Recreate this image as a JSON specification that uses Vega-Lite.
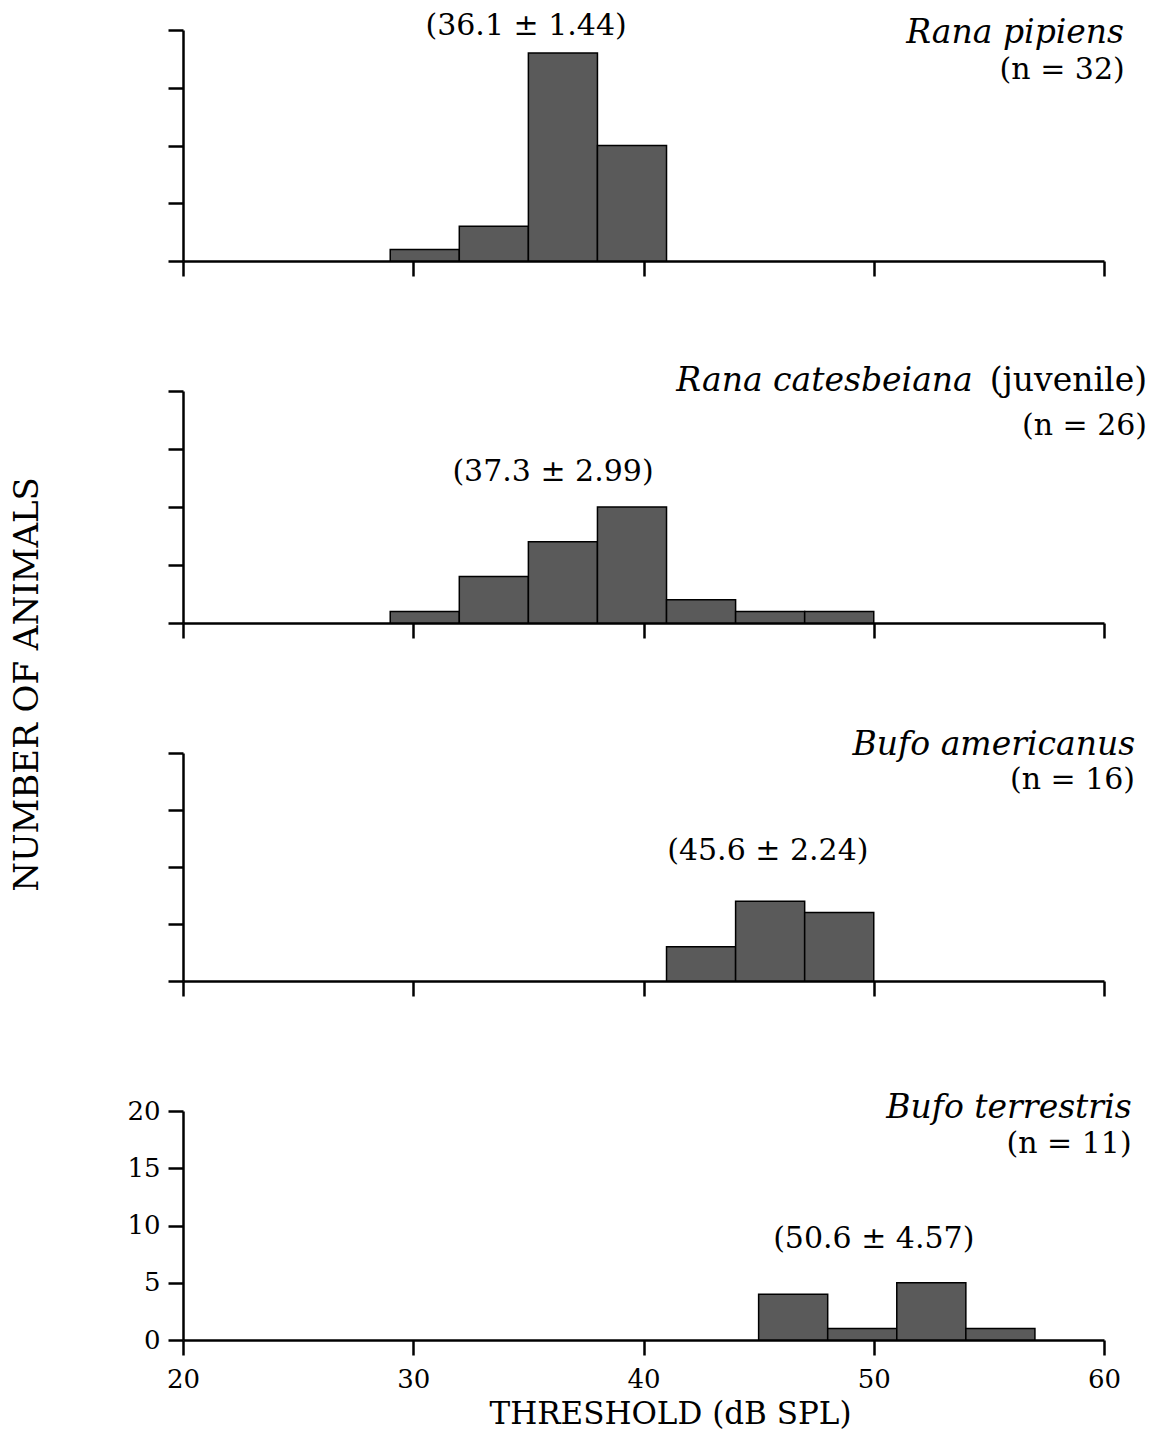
{
  "$schema": "https://vega.github.io/schema/vega-lite/v6.json",
  "padding": {"left": 10, "top": 10, "right": 5, "bottom": 5},
  "background": "white",
  "datasets": {
    "p1": [
      {"lo": 29, "hi": 32, "n": 1},
      {"lo": 32, "hi": 35, "n": 3},
      {"lo": 35, "hi": 38, "n": 18},
      {"lo": 38, "hi": 41, "n": 10}
    ],
    "p2": [
      {"lo": 29, "hi": 32, "n": 1},
      {"lo": 32, "hi": 35, "n": 4},
      {"lo": 35, "hi": 38, "n": 7},
      {"lo": 38, "hi": 41, "n": 10},
      {"lo": 41, "hi": 44, "n": 2},
      {"lo": 44, "hi": 47, "n": 1},
      {"lo": 47, "hi": 50, "n": 1}
    ],
    "p3": [
      {"lo": 41, "hi": 44, "n": 3},
      {"lo": 44, "hi": 47, "n": 7},
      {"lo": 47, "hi": 50, "n": 6}
    ],
    "p4": [
      {"lo": 45, "hi": 48, "n": 4},
      {"lo": 48, "hi": 51, "n": 1},
      {"lo": 51, "hi": 54, "n": 5},
      {"lo": 54, "hi": 57, "n": 1}
    ]
  },
  "bounds": "flush",
  "spacing": 130,
  "vconcat": [
    {
      "width": 921, "height": 231,
      "layer": [
        {"data": {"name": "p1"},
         "mark": {"type": "rect", "fill": "#5a5a5a", "stroke": "black", "strokeWidth": 1.5},
         "encoding": {
           "x": {"field": "lo", "type": "quantitative", "scale": {"domain": [20, 60], "nice": false, "zero": false}, "axis": {"values": [20, 30, 40, 50, 60], "labels": false, "title": null}},
           "x2": {"field": "hi"},
           "y": {"field": "n", "type": "quantitative", "scale": {"domain": [0, 20], "nice": false}, "axis": {"values": [0, 5, 10, 15, 20], "labels": false, "title": null}},
           "y2": {"datum": 0}
         }},
        {"data": {"values": [{"x": 60.87, "y": 19.7, "t": "Rana pipiens"}]},
         "mark": {"type": "text", "font": "DejaVu Serif", "fontStyle": "italic", "fontSize": 33, "align": "right", "baseline": "middle", "color": "black"},
         "encoding": {"x": {"field": "x", "type": "quantitative"}, "y": {"field": "y", "type": "quantitative"}, "text": {"field": "t"}}},
        {"data": {"values": [{"x": 60.9, "y": 16.5, "t": "(n = 32)"}]},
         "mark": {"type": "text", "font": "DejaVu Serif", "fontSize": 30, "align": "right", "baseline": "middle", "color": "black"},
         "encoding": {"x": {"field": "x", "type": "quantitative"}, "y": {"field": "y", "type": "quantitative"}, "text": {"field": "t"}}},
        {"data": {"values": [{"x": 34.9, "y": 20.35, "t": "(36.1 ± 1.44)"}]},
         "mark": {"type": "text", "font": "DejaVu Serif", "fontSize": 30, "align": "center", "baseline": "middle", "color": "black"},
         "encoding": {"x": {"field": "x", "type": "quantitative"}, "y": {"field": "y", "type": "quantitative"}, "text": {"field": "t"}}}
      ]
    },
    {
      "width": 921, "height": 232,
      "layer": [
        {"data": {"name": "p2"},
         "mark": {"type": "rect", "fill": "#5a5a5a", "stroke": "black", "strokeWidth": 1.5},
         "encoding": {
           "x": {"field": "lo", "type": "quantitative", "scale": {"domain": [20, 60], "nice": false, "zero": false}, "axis": {"values": [20, 30, 40, 50, 60], "labels": false, "title": null}},
           "x2": {"field": "hi"},
           "y": {"field": "n", "type": "quantitative", "scale": {"domain": [0, 20], "nice": false}, "axis": {"values": [0, 5, 10, 15, 20], "labels": false, "title": null}},
           "y2": {"datum": 0}
         }},
        {"data": {"values": [{"x": 54.3, "y": 20.9, "t": "Rana catesbeiana"}]},
         "mark": {"type": "text", "font": "DejaVu Serif", "fontStyle": "italic", "fontSize": 33, "align": "right", "baseline": "middle", "color": "black"},
         "encoding": {"x": {"field": "x", "type": "quantitative"}, "y": {"field": "y", "type": "quantitative"}, "text": {"field": "t"}}},
        {"data": {"values": [{"x": 61.87, "y": 20.9, "t": "(juvenile)"}]},
         "mark": {"type": "text", "font": "DejaVu Serif", "fontSize": 33, "align": "right", "baseline": "middle", "color": "black"},
         "encoding": {"x": {"field": "x", "type": "quantitative"}, "y": {"field": "y", "type": "quantitative"}, "text": {"field": "t"}}},
        {"data": {"values": [{"x": 61.87, "y": 17.0, "t": "(n = 26)"}]},
         "mark": {"type": "text", "font": "DejaVu Serif", "fontSize": 30, "align": "right", "baseline": "middle", "color": "black"},
         "encoding": {"x": {"field": "x", "type": "quantitative"}, "y": {"field": "y", "type": "quantitative"}, "text": {"field": "t"}}},
        {"data": {"values": [{"x": 36.07, "y": 13.0, "t": "(37.3 ± 2.99)"}]},
         "mark": {"type": "text", "font": "DejaVu Serif", "fontSize": 30, "align": "center", "baseline": "middle", "color": "black"},
         "encoding": {"x": {"field": "x", "type": "quantitative"}, "y": {"field": "y", "type": "quantitative"}, "text": {"field": "t"}}}
      ]
    },
    {
      "width": 921, "height": 228,
      "layer": [
        {"data": {"name": "p3"},
         "mark": {"type": "rect", "fill": "#5a5a5a", "stroke": "black", "strokeWidth": 1.5},
         "encoding": {
           "x": {"field": "lo", "type": "quantitative", "scale": {"domain": [20, 60], "nice": false, "zero": false}, "axis": {"values": [20, 30, 40, 50, 60], "labels": false, "title": null}},
           "x2": {"field": "hi"},
           "y": {"field": "n", "type": "quantitative", "scale": {"domain": [0, 20], "nice": false}, "axis": {"values": [0, 5, 10, 15, 20], "labels": false, "title": null}},
           "y2": {"datum": 0}
         }},
        {"data": {"values": [{"x": 61.35, "y": 20.7, "t": "Bufo americanus"}]},
         "mark": {"type": "text", "font": "DejaVu Serif", "fontStyle": "italic", "fontSize": 33, "align": "right", "baseline": "middle", "color": "black"},
         "encoding": {"x": {"field": "x", "type": "quantitative"}, "y": {"field": "y", "type": "quantitative"}, "text": {"field": "t"}}},
        {"data": {"values": [{"x": 61.35, "y": 17.6, "t": "(n = 16)"}]},
         "mark": {"type": "text", "font": "DejaVu Serif", "fontSize": 30, "align": "right", "baseline": "middle", "color": "black"},
         "encoding": {"x": {"field": "x", "type": "quantitative"}, "y": {"field": "y", "type": "quantitative"}, "text": {"field": "t"}}},
        {"data": {"values": [{"x": 45.4, "y": 11.4, "t": "(45.6 ± 2.24)"}]},
         "mark": {"type": "text", "font": "DejaVu Serif", "fontSize": 30, "align": "center", "baseline": "middle", "color": "black"},
         "encoding": {"x": {"field": "x", "type": "quantitative"}, "y": {"field": "y", "type": "quantitative"}, "text": {"field": "t"}}}
      ]
    },
    {
      "width": 921, "height": 229,
      "layer": [
        {"data": {"name": "p4"},
         "mark": {"type": "rect", "fill": "#5a5a5a", "stroke": "black", "strokeWidth": 1.5},
         "encoding": {
           "x": {"field": "lo", "type": "quantitative", "scale": {"domain": [20, 60], "nice": false, "zero": false}, "axis": {"values": [20, 30, 40, 50, 60], "title": "THRESHOLD (dB SPL)", "labelPadding": 11, "titleFontSize": 31, "titleX": 487, "titleY": 74, "titleBaseline": "middle", "titleAlign": "center"}},
           "x2": {"field": "hi"},
           "y": {"field": "n", "type": "quantitative", "scale": {"domain": [0, 20], "nice": false}, "axis": {"values": [0, 5, 10, 15, 20], "title": "NUMBER OF ANIMALS", "labelPadding": 8, "titleX": -156, "titleY": -427, "titleAngle": -90, "titleAlign": "center", "titleBaseline": "middle"}},
           "y2": {"datum": 0}
         }},
        {"data": {"values": [{"x": 61.2, "y": 20.3, "t": "Bufo terrestris"}]},
         "mark": {"type": "text", "font": "DejaVu Serif", "fontStyle": "italic", "fontSize": 33, "align": "right", "baseline": "middle", "color": "black"},
         "encoding": {"x": {"field": "x", "type": "quantitative"}, "y": {"field": "y", "type": "quantitative"}, "text": {"field": "t"}}},
        {"data": {"values": [{"x": 61.2, "y": 17.1, "t": "(n = 11)"}]},
         "mark": {"type": "text", "font": "DejaVu Serif", "fontSize": 30, "align": "right", "baseline": "middle", "color": "black"},
         "encoding": {"x": {"field": "x", "type": "quantitative"}, "y": {"field": "y", "type": "quantitative"}, "text": {"field": "t"}}},
        {"data": {"values": [{"x": 50.0, "y": 8.8, "t": "(50.6 ± 4.57)"}]},
         "mark": {"type": "text", "font": "DejaVu Serif", "fontSize": 30, "align": "center", "baseline": "middle", "color": "black"},
         "encoding": {"x": {"field": "x", "type": "quantitative"}, "y": {"field": "y", "type": "quantitative"}, "text": {"field": "t"}}}
      ]
    }
  ],
  "config": {
    "view": {"stroke": null},
    "font": "DejaVu Serif",
    "axis": {
      "grid": false,
      "labelFlush": false,
      "labelOverlap": false,
      "domainColor": "black", "domainWidth": 2.5,
      "tickColor": "black", "tickWidth": 2.5, "tickSize": 15,
      "labelFont": "DejaVu Serif", "labelFontSize": 26, "labelColor": "black",
      "titleFont": "DejaVu Serif", "titleFontSize": 34, "titleFontWeight": "normal", "titleColor": "black"
    }
  }
}
